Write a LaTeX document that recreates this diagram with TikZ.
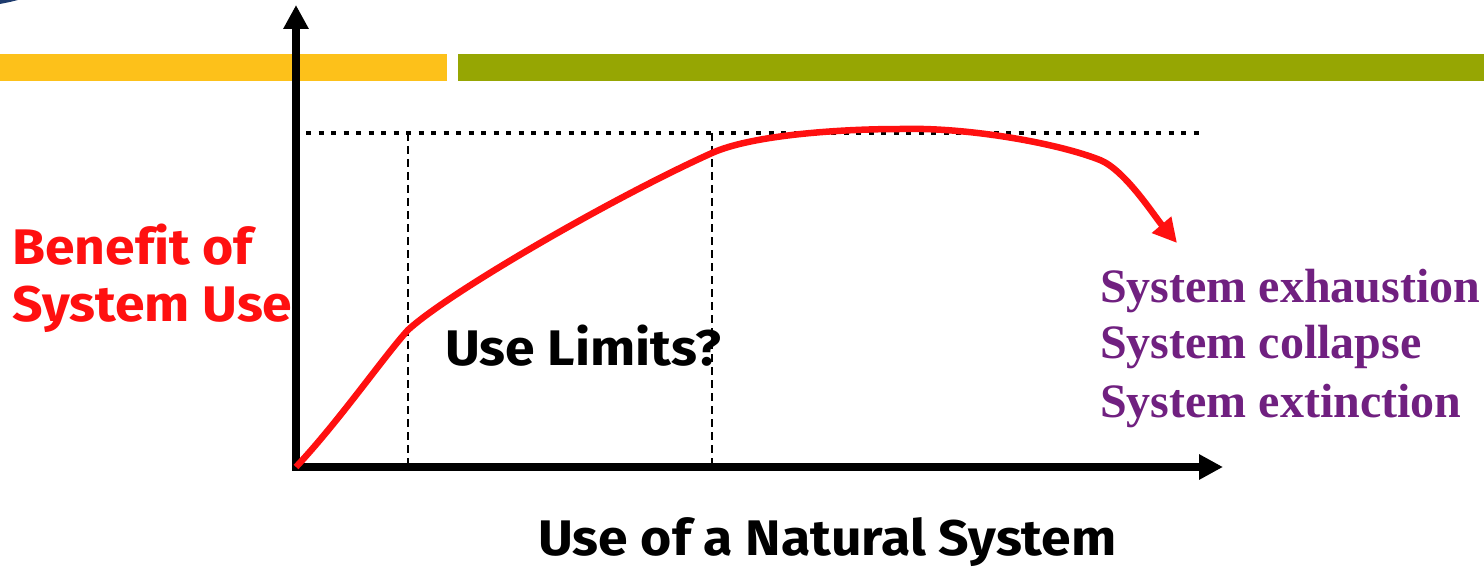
\documentclass[tikz,border=0pt]{standalone}
\usepackage{fontspec}
\setmainfont{Liberation Serif}
\newfontfamily\handfont{Fira Sans}[FakeStretch = 1.07, Ligatures = NoCommon]
\usetikzlibrary{arrows.meta}

\definecolor{curvered}{RGB}{255,16,16}
\definecolor{outcomepurple}{RGB}{112,32,128}
\definecolor{baryellow}{RGB}{253,193,26}
\definecolor{bargreen}{RGB}{150,166,3}
\definecolor{logoblue}{RGB}{30,60,110}

\begin{document}
\begin{tikzpicture}[
    x = 1pt, y = -1pt,
    axis/.style = {line width = 8pt, line cap = rect,
      -{Triangle[length = 24pt, width = 24pt]}},
    ceiling/.style = {line width = 4pt, dash pattern = on 5pt off 7.5pt},
    limit/.style = {line width = 1.5pt, dash pattern = on 8pt off 5pt},
    benefit/.style = {line width = 6.5pt, draw = curvered,
      -{Triangle[length = 24pt, width = 24pt]}},
    hand/.style = {font = \handfont\bfseries\fontsize{50}{56}\selectfont,
      anchor = base west, inner sep = 0pt},
    outcome/.style = {font = \bfseries\fontsize{48}{54}\selectfont,
      text = outcomepurple, anchor = base west, inner sep = 0pt}
    ]
    \useasboundingbox (0, 0) rectangle (1484, 567);

    % header bars
    \fill [logoblue] (0, 0) -- (18, 0) .. controls (10, 2) .. (0, 4) -- cycle;
    \fill [baryellow] (0, 54) rectangle (447, 81);
    \fill [bargreen] (458, 54) rectangle (1484, 81);

    \coordinate (O) at (296, 467);
    \coordinate (ytip) at (296, 5);
    \coordinate (xtip) at (1223, 467);
    \coordinate (top) at (306, 133);
    \coordinate (topend) at (1203, 133);
    \coordinate (lim1) at (408, 133);
    \coordinate (lim1b) at (408, 467);
    \coordinate (lim2) at (712, 133);
    \coordinate (lim2b) at (712, 467);

    \draw [ceiling] (top) -- (topend);
    \draw [limit] (lim1) -- (lim1b);
    \draw [limit] (lim2) -- (lim2b);

    \draw [axis] (O) -- (ytip);
    \draw [axis] (O) -- (xtip);

    % benefit curve
    \coordinate (knee) at (408, 330);
    \coordinate (mid) at (712, 153);
    \coordinate (peak) at (900, 129);
    \coordinate (fall) at (1100, 160);
    \coordinate (drop) at (1177, 243);
    \draw [benefit] (O) .. controls (340, 420) and (385, 355) .. (knee)
      .. controls (448, 293) and (612, 198) .. (mid)
      .. controls (752, 135) and (840, 129) .. (peak)
      .. controls (970, 127) and (1060, 144) .. (fall)
      .. controls (1125, 170) and (1155, 217) .. (drop);

    \node at (12, 264) [hand, text = curvered, name = benefit] {Benefit of};
    \node at (12, 321) [hand, text = curvered, name = benefitb] {System Use};
    \node at (445, 365) [hand, name = limits] {Use Limits?};
    \node at (538, 555) [hand, name = xlabel] {Use of a Natural System};

    \node at (1100, 302) [outcome, name = exhaustion] {System exhaustion};
    \node at (1100, 358) [outcome, name = collapse] {System collapse};
    \node at (1100, 417) [outcome, name = extinction] {System extinction};

  \end{tikzpicture}
\end{document}
